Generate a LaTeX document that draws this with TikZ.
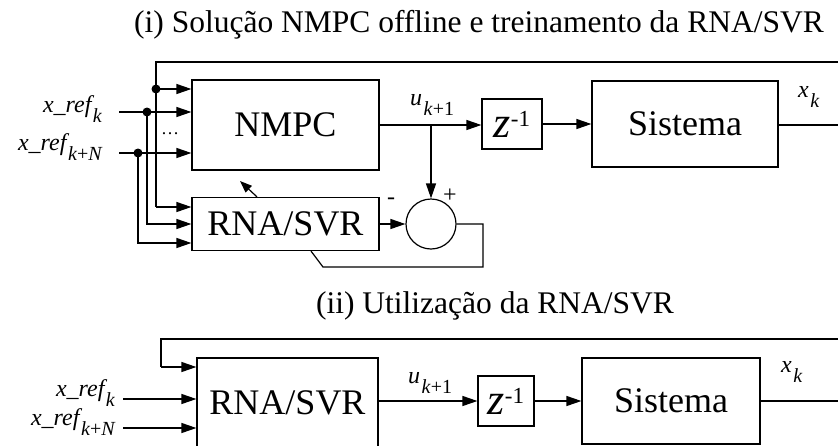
\documentclass[tikz,border=0pt]{standalone}
\usepackage{fontspec}
\setmainfont{Liberation Serif}
\usetikzlibrary{arrows.meta,calc}

% font size helper and lowered subscript
\newcommand\fs[1]{\fontsize{#1}{#1}\selectfont}
\newcommand\lsub[1]{\kern1.5pt\raisebox{-10pt}{\fs{20}#1}}
\newcommand\zinv{{\fs{44}\itshape z}\raisebox{11pt}{\fs{23}-1}}

\begin{document}
\begin{tikzpicture}[x=1pt,y=-1pt,
  wire/.style={line width=1.2pt},
  flow/.style={wire,-{Triangle[length=15pt,width=10pt]}},
  thin flow/.style={wire,-{Triangle[length=12pt,width=9pt]}},
  blk/.style={draw,line width=1.2pt,inner sep=0pt,font=\fs{36}},
  lab/.style={inner sep=0pt,font=\fs{24}\itshape},
  sign/.style={inner sep=0pt,font=\fs{24}},
  ttl/.style={inner sep=0pt,font=\fs{31.5}},
  jdot/.style={circle,fill,inner sep=0pt,minimum size=9pt}]

\useasboundingbox (0,0) rectangle (838,445);
\clip (0,0) rectangle (838,445);

% ---------------- (i) offline NMPC solution and training ----------------
\node[ttl,anchor=base] (t1) at (479,32) {(i) Solução NMPC offline e treinamento da RNA/SVR};

\node[blk,minimum width=187pt,minimum height=90pt] (nmpc) at (285.5,125) {NMPC};
\node[blk,minimum width=187pt,minimum height=53pt] (rna1) at (285.5,224) {RNA/SVR};
\node[blk,minimum width=60pt,minimum height=50pt] (z1) at (512,124) {\zinv};
\node[blk,minimum width=186pt,minimum height=86pt] (sis1) at (685,124) {Sistema};
\node[draw,circle,line width=1.2pt,minimum size=50pt,inner sep=0pt] (sum) at (431,224) {};

% state feedback loop
\coordinate (edge1) at (850,125);
\coordinate (fb1) at (156,62);
\coordinate (fbtap) at (156,89);
\coordinate (fbin) at (156,207);
\draw[wire] (sis1.east |- edge1) -- (edge1) |- (fb1) -- (fbin);
\draw[flow] (fbin) -- (fbin -| rna1.west);
\draw[flow] (fbtap) -- (fbtap -| nmpc.west);
\node[jdot] at (fbtap) {};

% references
\coordinate (r1) at (119,112);
\coordinate (r1tap) at (147,112);
\coordinate (r2) at (119,153);
\coordinate (r2tap) at (138,153);
\coordinate (r2in) at (138,243);
\draw[flow] (r1) -- (r1 -| nmpc.west);
\draw[flow] (r2) -- (r2 -| nmpc.west);
\draw[flow] (r1tap) |- (rna1.west);
\draw[flow] (r2tap) -- (r2in) -- (r2in -| rna1.west);
\node[jdot] at (r1tap) {};
\node[jdot] at (r2tap) {};
\node[lab,anchor=base east] (lr1) at (102,112) {x\_ref\lsub{k}};
\node[lab,anchor=base east] (lr2) at (102,150) {x\_ref\lsub{k\textup{+}N}};
\node[inner sep=0pt,anchor=base,font=\fs{18}] (dots) at (170,134) {\textellipsis};

% control path
\coordinate (uj) at (431,125);
\draw[flow] (nmpc.east) -- (nmpc.east -| z1.west);
\draw[flow] (uj) -- (sum.north);
\draw[flow] (z1.east) -- (sis1.west);
\node[lab,anchor=base west] (lu1) at (410,105) {u\lsub{k\textup{+1}}};
\node[lab,anchor=base west] (lx1) at (798,97) {x\lsub{k}};

% error and training
\draw[flow] (rna1.east) -- (sum.west);
\node[sign] (plus) at (450,196) {+};
\node[sign] (minus) at (391,201) {-};
\coordinate (e2) at (483,267);
\coordinate (e3) at (323,267);
\draw[wire] (sum.east) -| (e2) -- (e3) -- ($(rna1.south)+(25.5,0)$);
\coordinate (tr) at (240,181);
\draw[thin flow] ($(rna1.north)+(-28.5,0)$) -- (tr);

% ---------------- (ii) use of the trained model ----------------
\node[ttl,anchor=base] (t2) at (495,313) {(ii) Utilização da RNA/SVR};

\node[blk,minimum width=181pt,minimum height=90pt] (rna2) at (287.5,403) {RNA/SVR};
\node[blk,minimum width=56pt,minimum height=50pt] (z2) at (506,401) {\zinv};
\node[blk,minimum width=178pt,minimum height=86pt] (sis2) at (671,401) {Sistema};

\coordinate (edge2) at (850,401);
\coordinate (bfb1) at (161,339);
\coordinate (bfin) at (161,367);
\draw[wire] (sis2.east) -- (edge2) |- (bfb1) -- (bfin);
\draw[flow] (bfin) -- (bfin -| rna2.west);

\coordinate (b1) at (123,399);
\coordinate (b2) at (123,428);
\draw[flow] (b1) -- (b1 -| rna2.west);
\draw[flow] (b2) -- (b2 -| rna2.west);
\node[lab,anchor=base east] (lb1) at (115,396) {x\_ref\lsub{k}};
\node[lab,anchor=base east] (lb2) at (115,425) {x\_ref\lsub{k\textup{+}N}};

\draw[flow] (rna2.east |- z2.west) -- (z2.west);
\draw[flow] (z2.east) -- (sis2.west);
\node[lab,anchor=base west] (lu2) at (408,383) {u\lsub{k\textup{+1}}};
\node[lab,anchor=base west] (lx2) at (781,372) {x\lsub{k}};
\end{tikzpicture}
\end{document}
